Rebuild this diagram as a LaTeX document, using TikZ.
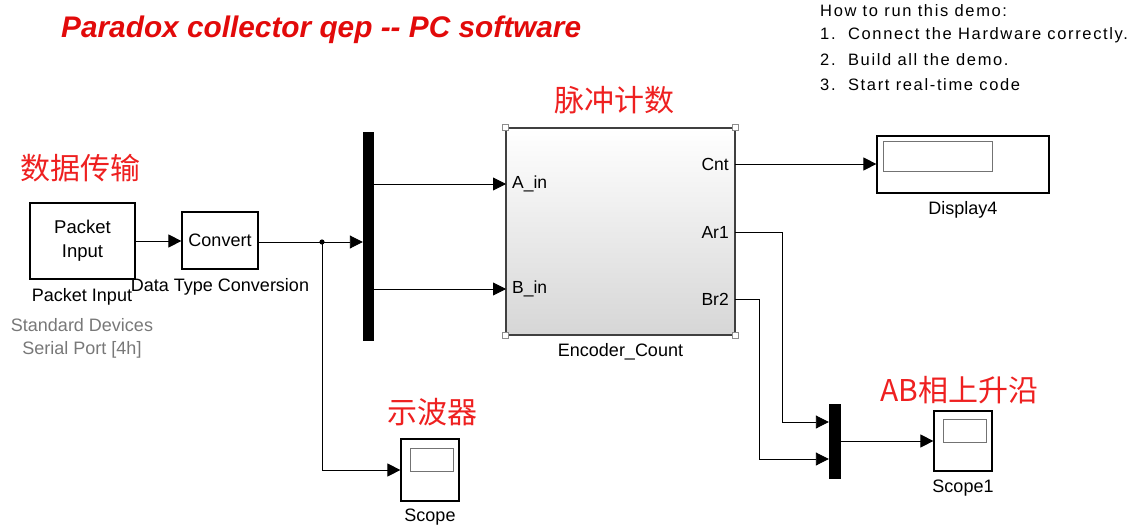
\documentclass[tikz,border=0pt]{standalone}
\usepackage{fontspec}
\setmainfont{Liberation Sans}
\newfontfamily\cjk{Noto Sans CJK SC}
\newfontfamily\spacedfont[LetterSpace=10]{Liberation Sans}
\usetikzlibrary{arrows.meta}
\definecolor{annot}{RGB}{238,32,32}
\definecolor{titlered}{RGB}{226,10,10}
\definecolor{graytxt}{RGB}{120,120,120}
\tikzset{
  blk/.style={draw=black, line width=1.2pt, fill=white, inner sep=0pt, align=center, font=\fontsize{18}{22}\selectfont},
  muxbar/.style={draw=black, fill=black, inner sep=0pt},
  inner/.style={draw=black!55, line width=0.9pt},
  wire/.style={draw=black, line width=0.9pt},
  arr/.style={wire, -{Triangle[length=13pt,width=13pt]}},
  lbl/.style={font=\fontsize{18}{22}\selectfont, inner sep=0pt},
  port/.style={font=\fontsize{17.5}{20}\selectfont, inner sep=0pt},
  cjklabel/.style={font=\cjk\fontsize{30}{33}\selectfont, text=annot, inner sep=0pt},
  corner/.style={draw=black!45, fill=white, line width=0.6pt, minimum size=6pt, inner sep=0pt},
  howto/.style={font=\spacedfont\fontsize{16.5}{18}\selectfont, anchor=west, inner sep=0pt},
}
\begin{document}
\begin{tikzpicture}[x=1pt,y=-1pt]
\useasboundingbox (0,0) rectangle (1138,527);

% title
\node[font=\bfseries\itshape\fontsize{29.8}{33}\selectfont, text=titlered, anchor=west, inner sep=0pt] (title) at (61,30) {Paradox collector qep -{}- PC software};

% how to run
\node[howto] (h0) at (820,11) {How to run this demo:};
\node[howto] (h1) at (820,35.5) {1.\ \ Connect the Hardware correctly.};
\node[howto] (h2) at (820,60) {2.\ \ Build all the demo.};
\node[howto] (h3) at (820,84.5) {3.\ \ Start real-time code};

% red annotations
\node[cjklabel] (c1) at (80,168) {数据传输};
\node[cjklabel] (c2) at (614,100) {脉冲计数};
\node[cjklabel] (c3) at (432,412) {示波器};
\node[cjklabel, anchor=west] (c4) at (880,390) {AB相上升沿};

% blocks
\node[blk, minimum width=105pt, minimum height=76pt, font=\fontsize{18.5}{24}\selectfont] (packet) at (82.5,241) {Packet\\Input};
\node[lbl] (packetlbl) at (82,297) {Packet Input};
\node[lbl, text=graytxt] (std1) at (82,325) {Standard Devices};
\node[lbl, text=graytxt] (std2) at (82,350) {Serial Port [4h]};

\node[blk, minimum width=76pt, minimum height=57pt] (convert) at (220,240.5) {Convert};
\node[lbl] (convlbl) at (220,287) {Data Type Conversion};

\node[muxbar, minimum width=10pt, minimum height=208pt] (mux1) at (368,236) {};

\node[draw=black!75, line width=1.5pt, top color=white, middle color=white, bottom color=black!16, minimum width=229pt, minimum height=207pt, inner sep=0pt] (enc) at (620.5,231.5) {};
\node[corner] (k1) at (enc.north west) {};
\node[corner] (k2) at (enc.north east) {};
\node[corner] (k3) at (enc.south west) {};
\node[corner] (k4) at (enc.south east) {};
\node[lbl] (enclbl) at (620.5,352) {Encoder\_Count};

\coordinate (ain) at (506,184);
\coordinate (bin) at (506,289);
\coordinate (cnt) at (735,164);
\coordinate (ar1) at (735,232);
\coordinate (br2) at (735,299);
\node[port, anchor=west] (tain) at (512,184) {A\_in};
\node[port, anchor=west] (tbin) at (512,289) {B\_in};
\node[port, anchor=east] (tcnt) at (729,164) {Cnt};
\node[port, anchor=east] (tar1) at (729,232) {Ar1};
\node[port, anchor=east] (tbr2) at (729,299) {Br2};

\node[blk, minimum width=172pt, minimum height=57pt] (disp) at (963,164.5) {};
\draw[inner] (883,141) rectangle (992,171);
\node[lbl] (displbl) at (963,210) {Display4};

\node[blk, minimum width=58pt, minimum height=62pt] (scope) at (430,470) {};
\draw[inner] (410,448) rectangle (453,471);
\node[lbl] (scopelbl) at (430,517) {Scope};

\node[muxbar, minimum width=11pt, minimum height=74pt] (mux2) at (834.5,441) {};

\node[blk, minimum width=58pt, minimum height=60pt] (scope1) at (963,441) {};
\draw[inner] (943,419) rectangle (986,442);
\node[lbl] (scope1lbl) at (963,488) {Scope1};

% connectors
\coordinate (junc) at (322,242);
\draw[arr] (packet.east) -- (convert.west |- packet.east);
\draw[arr] (convert.east |- junc) -- (mux1.west |- junc);
\fill (junc) circle (2.6pt);
\draw[arr] (junc) -- (junc |- scope.west) -- (scope.west);
\draw[arr] (mux1.east |- ain) -- (ain);
\draw[arr] (mux1.east |- bin) -- (bin);
\draw[arr] (cnt) -- (disp.west |- cnt);
\coordinate (a1) at (782,422);
\coordinate (b1) at (759,459);
\draw[arr] (ar1) -| (a1) -- (mux2.west |- a1);
\draw[arr] (br2) -| (b1) -- (mux2.west |- b1);
\draw[arr] (mux2.east) -- (scope1.west);
\end{tikzpicture}
\end{document}
